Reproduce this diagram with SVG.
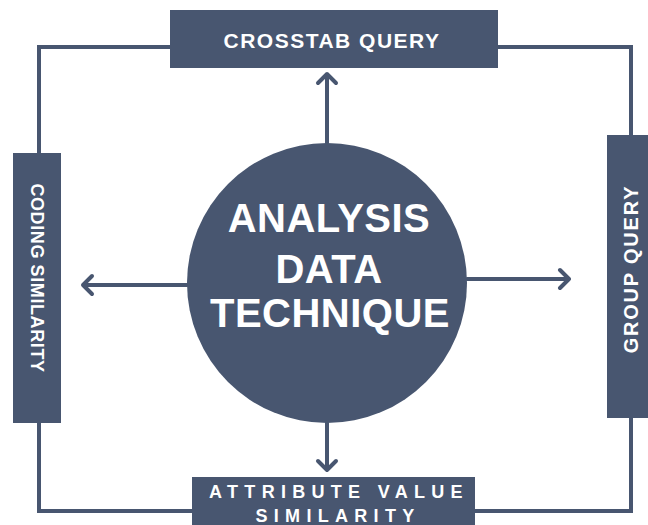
<svg xmlns="http://www.w3.org/2000/svg" width="648" height="525" viewBox="0 0 648 525">
  <defs>
    <style>
      .box { fill: #485670; }
      .hub { fill: #485670; }
      .wire { fill: none; stroke: #485670; stroke-width: 4; }
      .arrow { fill: none; stroke: #485670; stroke-width: 4; stroke-linecap: round; stroke-linejoin: round; }
      .lbl { fill: #ffffff; font-family: "Liberation Sans", Arial, sans-serif; font-weight: bold; text-anchor: middle; }
    </style>
  </defs>
  <rect width="648" height="525" fill="#ffffff"/>

  <!-- connectors: outer frame and arrows from the hub -->
  <g id="connectors">
    <polyline class="wire" points="172,47 39,47 39,511 194,511"/>
    <polyline class="wire" points="496,47 631,47 631,511 474,511"/>
    <path class="arrow" d="M327,143 V74 M318,83 L327,74 L336,83"/>
    <path class="arrow" d="M187,285 H83 M92,276 L83,285 L92,294"/>
    <path class="arrow" d="M467,279 H569 M560,270 L569,279 L560,288"/>
    <path class="arrow" d="M327,423 V470 M318,461 L327,470 L336,461"/>
  </g>

  <g id="hub">
    <circle class="hub" cx="327" cy="283" r="140"/>
    <text class="lbl" x="329" y="232" font-size="40" letter-spacing="0.5">ANALYSIS</text>
    <text class="lbl" x="329" y="283" font-size="40" letter-spacing="0.5">DATA</text>
    <text class="lbl" x="330" y="327" font-size="40" letter-spacing="0.5">TECHNIQUE</text>
  </g>

  <g id="crosstab-query">
    <rect class="box" x="170" y="10" width="328" height="58"/>
    <text class="lbl" x="332" y="48" font-size="21" letter-spacing="1.5">CROSSTAB QUERY</text>
  </g>

  <g id="coding-similarity">
    <rect class="box" x="13" y="153" width="48" height="270"/>
    <text class="lbl" transform="translate(31,278) rotate(90)" font-size="18" letter-spacing="0.6">CODING SIMILARITY</text>
  </g>

  <g id="group-query">
    <rect class="box" x="607" y="135" width="41" height="283"/>
    <text class="lbl" transform="translate(638,269) rotate(-90)" font-size="20" letter-spacing="1.8">GROUP QUERY</text>
  </g>

  <g id="attribute-value-similarity">
    <rect class="box" x="192" y="477" width="283" height="52"/>
    <text class="lbl" x="339" y="498" font-size="18" letter-spacing="6.3">ATTRIBUTE VALUE</text>
    <text class="lbl" x="338" y="522" font-size="18" letter-spacing="6.3">SIMILARITY</text>
  </g>
</svg>
